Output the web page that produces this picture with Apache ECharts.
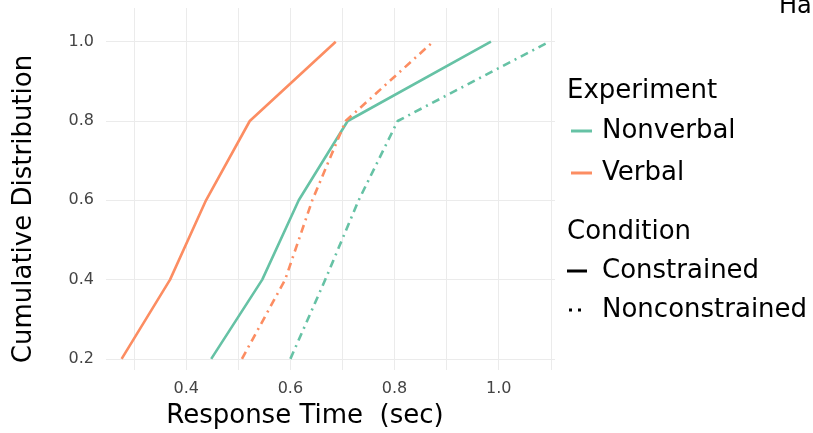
<!DOCTYPE html>
<html><head><meta charset="utf-8">
<script src="https://cdn.jsdelivr.net/npm/echarts@6/dist/echarts.min.js"></script>
<style>html,body{margin:0;padding:0;background:#fff}#c{width:813px;height:433px}</style>
</head><body><div id="c"></div>
<script>
// ---- data ----
const cumulativeProb = [0.2, 0.4, 0.6, 0.8, 1.0];
const nonverbalConstrained = [0.448, 0.546, 0.616, 0.710, 0.985];
const verbalConstrained = [0.276, 0.369, 0.438, 0.522, 0.687];
const nonverbalNonconstrained = [0.600, 0.667, 0.731, 0.806, 1.097];
const verbalNonconstrained = [0.507, 0.590, 0.642, 0.706, 0.874];
const xTickLabels = [0.4, 0.6, 0.8, 1.0];
const yTickLabels = [0.2, 0.4, 0.6, 0.8, 1.0];
const xGridValues = [0.3, 0.4, 0.5, 0.6, 0.7, 0.8, 0.9, 1.0, 1.1];
const experiments = ['Nonverbal', 'Verbal'];
const conditions = ['Constrained', 'Nonconstrained'];

const GREEN = '#66c2a5', ORANGE = '#fc8d62';
const FONT = 'DejaVu Sans';
const DASH = [8, 5, 2, 5];

function pairs(xs) { return xs.map((x, i) => [x, cumulativeProb[i]]); }
function lineSeries(name, xs, color, dashed) {
  return {
    name: name, type: 'line', data: pairs(xs), showSymbol: false, symbol: 'none',
    color: color, silent: true,
    lineStyle: { color: color, width: 2.6, type: dashed ? DASH : 'solid', cap: 'butt', join: 'round' }
  };
}
function legendSeries(name, color) {
  return { name: name, type: 'line', data: [], color: color, lineStyle: { color: color } };
}

const chart = echarts.init(document.getElementById('c'), null, { renderer: 'canvas' });
chart.setOption({
  backgroundColor: '#ffffff',
  animation: false,
  textStyle: { fontFamily: FONT },
  grid: { left: 106, right: 258, top: 8, bottom: 63, containLabel: false },
  xAxis: {
    type: 'value', min: 0.246, max: 1.108,
    axisLine: { show: false },
    axisTick: { show: false, customValues: xGridValues },
    splitLine: { show: true, lineStyle: { color: '#ebebeb', width: 1 } },
    axisLabel: { customValues: xTickLabels, formatter: v => v.toFixed(1), color: '#444', fontSize: 16, fontFamily: FONT, margin: 11 }
  },
  yAxis: {
    type: 'value', min: 0.172, max: 1.085,
    axisLine: { show: false },
    axisTick: { show: false, customValues: yTickLabels },
    splitLine: { show: true, lineStyle: { color: '#ebebeb', width: 1 } },
    axisLabel: { customValues: yTickLabels, formatter: v => v.toFixed(1), color: '#444', fontSize: 16, fontFamily: FONT, margin: 12, padding: [5, 0, 0, 0] }
  },
  legend: [
    {
      data: experiments.map(n => ({ name: n, icon: 'rect' })),
      orient: 'vertical', left: 571, top: 116, padding: 0,
      itemWidth: 21, itemHeight: 3, itemGap: 12, selectedMode: false,
      textStyle: { fontSize: 26, fontFamily: FONT, color: '#000', lineHeight: 30, padding: [0, 0, 0, 5] }
    },
    {
      data: [
        { name: conditions[0], icon: 'rect' },
        { name: conditions[1], icon: 'path://M0,0h0.001v0.001h-0.001z M2,0h3v3h-3z M11,0h3v3h-3z M19.999,2.999h0.001v0.001h-0.001z' }
      ],
      orient: 'vertical', left: 567, top: 256, padding: 0,
      itemWidth: 20, itemHeight: 3, itemGap: 9, selectedMode: false,
      textStyle: { fontSize: 26, fontFamily: FONT, color: '#000', lineHeight: 30, padding: [0, 0, 0, 10] }
    }
  ],
  graphic: [
    { type: 'text', left: 567, top: 78, style: { text: 'Experiment', fontSize: 26, fontFamily: FONT, fill: '#000' } },
    { type: 'text', left: 567, top: 219, style: { text: 'Condition', fontSize: 26, fontFamily: FONT, fill: '#000' } },
    { type: 'text', x: 305, y: 416, style: { text: 'Response Time  (sec)', fontSize: 26, fontFamily: FONT, fill: '#000', align: 'center', verticalAlign: 'middle' } },
    { type: 'text', x: 24, y: 209, rotation: Math.PI / 2, style: { text: 'Cumulative Distribution', fontSize: 26, fontFamily: FONT, fill: '#000', align: 'center', verticalAlign: 'middle' } },
    { type: 'text', x: 779, y: 19, style: { text: 'Ha', fontSize: 24, fontFamily: FONT, fill: '#000', verticalAlign: 'bottom' } }
  ],
  series: [
    legendSeries('Nonverbal', GREEN),
    legendSeries('Verbal', ORANGE),
    legendSeries('Constrained', '#000'),
    legendSeries('Nonconstrained', '#000'),
    lineSeries('Nonverbal / Nonconstrained', nonverbalNonconstrained, GREEN, true),
    lineSeries('Nonverbal / Constrained', nonverbalConstrained, GREEN, false),
    lineSeries('Verbal / Nonconstrained', verbalNonconstrained, ORANGE, true),
    lineSeries('Verbal / Constrained', verbalConstrained, ORANGE, false)
  ]
});
</script></body></html>
